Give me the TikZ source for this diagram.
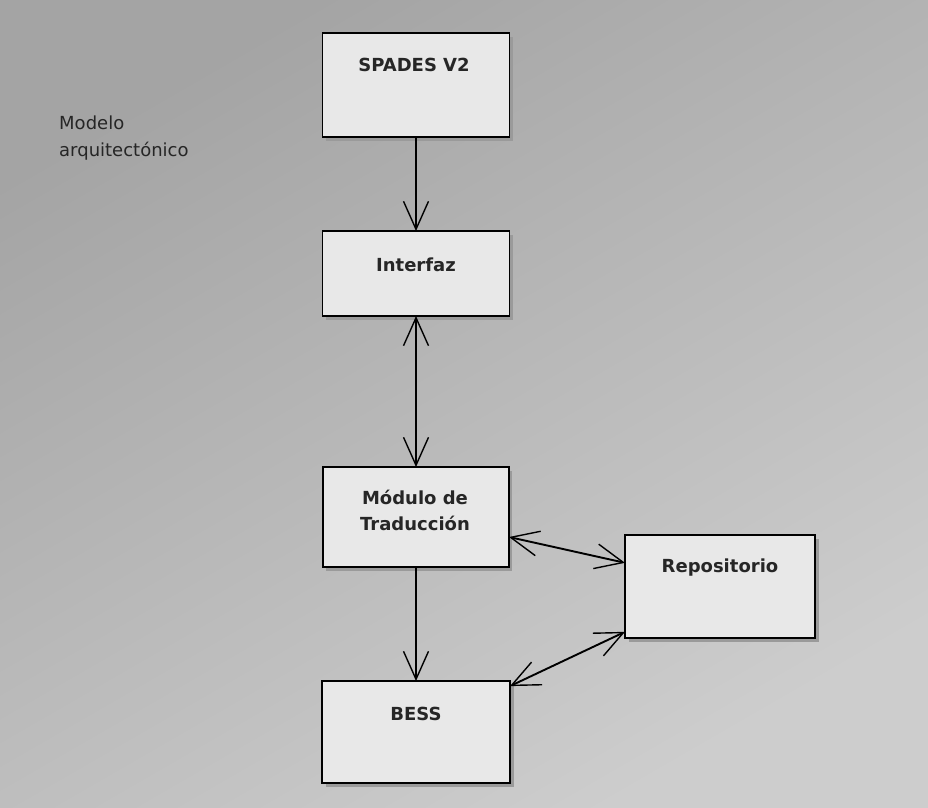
\documentclass[tikz,border=0pt]{standalone}
\usepackage{fontspec}
\setmainfont{DejaVu Sans}
\usetikzlibrary{arrows.meta,calc}
\definecolor{bgdark}{HTML}{A4A4A4}
\definecolor{bglight}{HTML}{CDCDCD}
\definecolor{boxfill}{HTML}{E8E8E8}
\definecolor{shadowc}{HTML}{9A9A9A}
\tikzset{
  box/.style={draw=black, line width=1.8pt, fill=boxfill, inner sep=0pt, outer sep=0pt},
  shadowbox/.style={fill=shadowc, draw=none},
  boxtext/.style={font=\fontsize{18}{26}\selectfont\bfseries, text=black!85, align=center, inner sep=0pt},
  notetext/.style={font=\fontsize{18}{27}\selectfont, text=black!85, align=left, inner sep=0pt, anchor=north west},
  vbarb/.tip={Straight Barb[length=28pt, width=25pt, line width=1.4pt]},
  conn/.style={line width=1.9pt, draw=black}
}
\begin{document}
\begin{tikzpicture}[x=1pt,y=-1pt]
% background
\shade[top color=bgdark, bottom color=bglight, shading angle=30] (0,0) rectangle (928,807);
\useasboundingbox (0,0) rectangle (928,807);
% shadows
\fill[shadowbox] (326,37) rectangle (513,141);
\fill[shadowbox] (326,235) rectangle (513,320);
\fill[shadowbox] (326,471) rectangle (512,571);
\fill[shadowbox] (629,539) rectangle (819,642);
\fill[shadowbox] (326,685) rectangle (514,787);
% boxes
\node[box, minimum width=187pt, minimum height=104pt] (spades) at (416,85) {};
\node[box, minimum width=187pt, minimum height=85pt] (interfaz) at (416,273.5) {};
\node[box, minimum width=186pt, minimum height=100pt] (modulo) at (416,517) {};
\node[box, minimum width=190pt, minimum height=103pt] (repo) at (720,586.5) {};
\node[box, minimum width=188pt, minimum height=102pt] (bess) at (416,732) {};
% texts
\node[boxtext] (tspades) at (414,65) {SPADES V2};
\node[boxtext] (tinterfaz) at (416,265) {Interfaz};
\node[boxtext] (tmodulo) at (415,510) {Módulo de\\Traducción};
\node[boxtext] (trepo) at (720,568) {Repositorio};
\node[boxtext] (tbess) at (416,714) {BESS};
\node[notetext] (note) at (59,116) {Modelo\\arquitectónico};
% connectors
\draw[conn, -vbarb] (spades.south) -- (interfaz.north);
\draw[conn, vbarb-vbarb] (interfaz.south) -- (modulo.north);
\draw[conn, -vbarb] (modulo.south) -- (bess.north);
\coordinate (mr) at ($(modulo.north east)!0.7!(modulo.south east)$);
\coordinate (rl) at ($(repo.north west)!0.27!(repo.south west)$);
\coordinate (rb) at ($(repo.north west)!0.94!(repo.south west)$);
\coordinate (bt) at ($(bess.north east)!0.05!(bess.south east)$);
\draw[conn, vbarb-vbarb] (mr) -- (rl);
\draw[conn, vbarb-vbarb] (rb) -- (bt);
\end{tikzpicture}
\end{document}
